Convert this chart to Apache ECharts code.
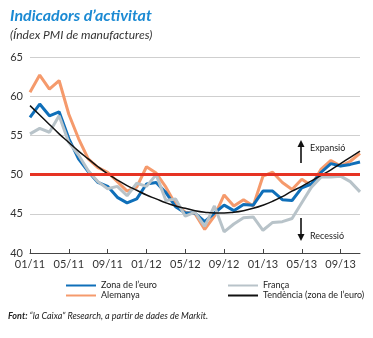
<!DOCTYPE html>
<html><head><meta charset="utf-8">
<script src="https://cdn.jsdelivr.net/npm/echarts@6/dist/echarts.min.js"></script>
<style>html,body{margin:0;padding:0;background:#fff}#c{width:373px;height:338px}</style>
</head><body><div id="c"></div>
<script>
const months = ['01/11','02/11','03/11','04/11','05/11','06/11','07/11','08/11','09/11','10/11','11/11','12/11',
 '01/12','02/12','03/12','04/12','05/12','06/12','07/12','08/12','09/12','10/12','11/12','12/12',
 '01/13','02/13','03/13','04/13','05/13','06/13','07/13','08/13','09/13','10/13','11/13'];
const euro = [57.3,59.0,57.5,58.0,54.6,52.0,50.4,49.0,48.5,47.1,46.4,46.9,
 48.8,49.0,47.7,45.9,45.1,45.1,44.0,45.1,46.1,45.4,46.2,46.1,
 47.9,47.9,46.8,46.7,48.3,48.8,50.3,51.4,51.1,51.3,51.6];
const germany = [60.5,62.7,60.9,62.0,57.7,54.6,52.0,50.9,50.3,49.1,47.9,48.4,
 51.0,50.2,48.4,46.2,45.2,45.0,43.0,44.7,47.4,46.0,46.8,46.0,
 49.8,50.3,49.0,48.1,49.4,48.6,50.7,51.8,51.1,51.7,52.7];
const france = [55.2,55.9,55.4,57.5,54.1,52.5,50.5,49.1,48.2,48.5,47.3,48.9,
 48.5,50.0,46.7,46.9,44.7,45.2,43.4,46.0,42.7,43.7,44.5,44.6,
 42.9,43.9,44.0,44.4,46.4,48.4,49.7,49.7,49.8,49.1,47.8];
const trend = [58.8,57.6,56.4,55.2,54.1,53.0,52.0,51.0,50.1,49.3,48.6,48.0,
 47.4,46.9,46.4,46.0,45.7,45.4,45.2,45.1,45.1,45.2,45.4,45.7,
 46.1,46.6,47.2,47.9,48.5,49.2,49.9,50.6,51.4,52.2,53.0];
const threshold = 50;
const yTicks = {min:40, max:65, step:5};

const names = {euro:'Zona de l’euro', de:'Alemanya', fr:'França', tr:'Tendència (zona de l’euro)'};
const FONT = 'Lato';
const legendCommon = {orient:'vertical', top:276, itemWidth:30, itemHeight:10, itemGap:1,
  itemStyle:{opacity:0}, textStyle:{fontSize:9, color:'#222', fontFamily:FONT}, selectedMode:false};
const chart = echarts.init(document.getElementById('c'), null, {renderer:'canvas'});
chart.setOption({
  animation:false,
  textStyle:{fontFamily:FONT},
  title:{
    text:'Indicadors d’activitat', left:5, top:3,
    textStyle:{fontFamily:FONT, fontStyle:'italic', fontWeight:'bold', fontSize:16, color:'#1b8ad3'},
    subtext:'(Índex PMI de manufactures)',
    subtextStyle:{fontFamily:FONT, fontStyle:'italic', fontSize:12, color:'#333'},
    itemGap:5
  },
  legend:[
    Object.assign({data:[names.euro, names.de], left:60}, legendCommon),
    Object.assign({data:[names.fr, names.tr], left:222}, legendCommon)
  ],
  grid:{left:30, right:13, top:57, bottom:85},
  xAxis:{
    type:'category', data:months, boundaryGap:false,
    axisLine:{lineStyle:{color:'#444', width:1}},
    axisTick:{inside:true, length:4, interval:3, lineStyle:{color:'#444'}},
    axisLabel:{interval:3, color:'#333', fontSize:11, margin:6}
  },
  yAxis:{
    type:'value', min:yTicks.min, max:yTicks.max, interval:yTicks.step,
    axisLine:{show:false}, axisTick:{show:false},
    axisLabel:{color:'#333', fontSize:11, margin:7},
    splitLine:{lineStyle:{color:'#cfcfcf', width:1}}
  },
  series:[
    {name:names.de, type:'line', data:germany, showSymbol:false, symbol:'none',
     lineStyle:{color:'#f59a6c', width:3}, itemStyle:{color:'#f59a6c'}, z:2,
     markLine:{silent:true, symbol:'none', label:{show:false},
       lineStyle:{color:'#e63323', width:3, type:'solid'}, data:[{yAxis:threshold}]}},
    {name:names.euro, type:'line', data:euro, showSymbol:false, symbol:'none',
     lineStyle:{color:'#0f6fb9', width:3}, itemStyle:{color:'#0f6fb9'}, z:3},
    {name:names.fr, type:'line', data:france, showSymbol:false, symbol:'none',
     lineStyle:{color:'#b8c3c9', width:3}, itemStyle:{color:'#b8c3c9'}, z:3},
    {name:names.tr, type:'line', data:trend, showSymbol:false, symbol:'none', smooth:true,
     lineStyle:{color:'#111', width:1.5}, itemStyle:{color:'#111'}, z:4}
  ],
  graphic:[
    {type:'line', shape:{x1:301, y1:163, x2:301, y2:146}, style:{stroke:'#111', lineWidth:1.6}},
    {type:'polygon', shape:{points:[[297.5,147],[304.5,147],[301,140]]}, style:{fill:'#111'}},
    {type:'text', left:310, top:144, style:{text:'Expansió', fontFamily:FONT, fontSize:9, fill:'#222'}},
    {type:'line', shape:{x1:301, y1:218, x2:301, y2:235}, style:{stroke:'#111', lineWidth:1.6}},
    {type:'polygon', shape:{points:[[297.5,234],[304.5,234],[301,241]]}, style:{fill:'#111'}},
    {type:'text', left:310, top:232, style:{text:'Recessió', fontFamily:FONT, fontSize:9, fill:'#222'}},
    {type:'text', left:8, top:312, style:{
      text:'{b|Font:} “la Caixa” Research, a partir de dades de Markit.',
      fontFamily:FONT, fontSize:9, fontStyle:'italic', fill:'#222',
      rich:{b:{fontFamily:FONT, fontSize:9, fontStyle:'italic', fontWeight:'bold', fill:'#222'}}}}
  ]
});
</script></body></html>
